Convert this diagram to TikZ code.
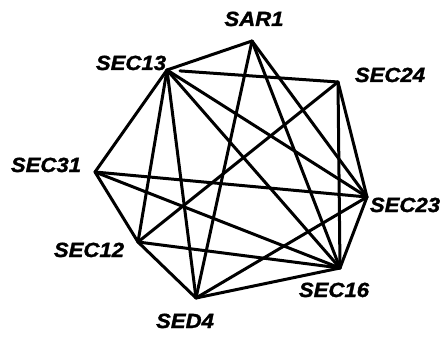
\documentclass[tikz,border=0pt]{standalone}
\usepackage{fontspec}
\newfontfamily\labfont[FakeStretch=1.08,BoldItalicFeatures={FakeBold=1.5}]{Liberation Sans}
\begin{document}
\begin{tikzpicture}[x=1pt,y=-1pt,
  edge/.style={line width=3pt,line cap=round,line join=round},
  lab/.style={inner sep=0pt,anchor=base,font=\labfont\fontsize{20.5}{21}\selectfont\bfseries\itshape}]
\useasboundingbox (0,0) rectangle (444,339);
\coordinate (sar1) at (252,41);
\coordinate (s13) at (167,70);
\coordinate (s24) at (338,82);
\coordinate (s31) at (95,172);
\coordinate (s23) at (367,197);
\coordinate (s12) at (138,242);
\coordinate (s16) at (340,268);
\coordinate (sed4) at (196,298);
\node[lab] (lsar1) at (254,26) {SAR1};
\node[lab] (ls13) at (131,70) {SEC13};
\node[lab] (ls24) at (390,82) {SEC24};
\node[lab] (ls31) at (46,172) {SEC31};
\node[lab] (ls23) at (405,212) {SEC23};
\node[lab] (ls12) at (89,257) {SEC12};
\node[lab] (ls16) at (334,297) {SEC16};
\node[lab] (lsed4) at (185,328) {SED4};
\draw[edge] (sar1) -- (s13);
\draw[edge] (sar1) -- (sed4);
\draw[edge] (sar1) -- (s16);
\draw[edge] (sar1) -- (s23);
\draw[edge,shorten <=13pt] (s13) -- (s24);
\draw[edge] (s13) -- (s31);
\draw[edge] (s13) -- (s12);
\draw[edge] (s13) -- (sed4);
\draw[edge] (s13) -- (s16);
\draw[edge] (s13) -- (s23);
\draw[edge] (s24) -- (s12);
\draw[edge] (s24) -- (s16);
\draw[edge] (s24) -- (s23);
\draw[edge] (s31) -- (s23);
\draw[edge] (s31) -- (s16);
\draw[edge] (s31) -- (s12);
\draw[edge] (s12) -- (s16);
\draw[edge] (s12) -- (sed4);
\draw[edge] (sed4) -- (s16);
\draw[edge] (sed4) -- (s23);
\draw[edge] (s16) -- (s23);
\end{tikzpicture}
\end{document}
